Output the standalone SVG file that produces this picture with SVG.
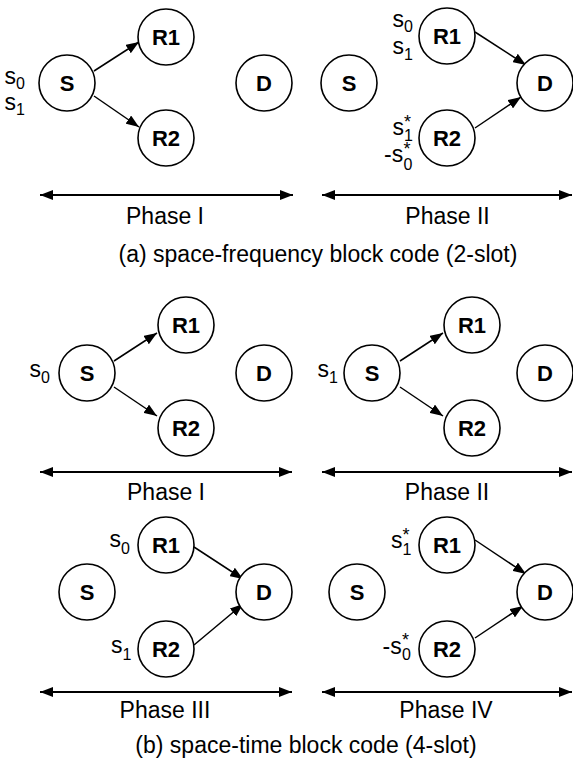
<svg xmlns="http://www.w3.org/2000/svg" width="573" height="767" viewBox="0 0 573 767">
<defs>
<marker id="ah" markerUnits="userSpaceOnUse" markerWidth="13" markerHeight="10" refX="13" refY="5" orient="auto-start-reverse" viewBox="0 0 13 10"><path d="M0,0 L13,5 L0,10 z" fill="#000"/></marker>
</defs>
<style>
.n circle{fill:#fff;stroke:#000;stroke-width:1.6}
.n text.t{font-family:"Liberation Sans",Arial,sans-serif;font-weight:bold;font-size:22px;text-anchor:middle}
.lbl{font-family:"Liberation Sans",Arial,sans-serif;font-size:23px;fill:#000}
.sub{font-size:16px}
.star{font-size:18px}
.c line{stroke:#000;stroke-width:1.5;marker-end:url(#ah)}
.ph line{stroke:#000;stroke-width:2;marker-start:url(#ah);marker-end:url(#ah)}
.ph text,.cap{font-family:"Liberation Sans",Arial,sans-serif;font-size:23px;text-anchor:middle}
</style>
<rect width="573" height="767" fill="#fff"/>

<!-- connectors -->
<g id="connectors" class="c">
<line x1="94" y1="71" x2="139" y2="42"/>
<line x1="94" y1="96" x2="139" y2="127"/>
<line x1="475" y1="32" x2="526" y2="65"/>
<line x1="475" y1="128" x2="521" y2="97"/>
<line x1="114" y1="361" x2="157" y2="333"/>
<line x1="114" y1="387" x2="157" y2="416"/>
<line x1="400" y1="361" x2="443" y2="333"/>
<line x1="400" y1="387" x2="443" y2="416"/>
<line x1="194" y1="547" x2="243" y2="579"/>
<line x1="194" y1="645" x2="243" y2="604"/>
<line x1="475" y1="540" x2="526" y2="574"/>
<line x1="475" y1="638" x2="523" y2="606"/>
</g>

<!-- (a) Phase I -->
<g id="a1-S" class="n"><circle cx="67" cy="83" r="28"/><text class="t" x="67" y="91">S</text>
<text class="lbl" x="4.5" y="83.5">s<tspan class="sub" dy="5">0</tspan></text>
<text class="lbl" x="4.5" y="110">s<tspan class="sub" dy="5">1</tspan></text></g>
<g id="a1-R1" class="n"><circle cx="166" cy="37" r="28"/><text class="t" x="166" y="45">R1</text></g>
<g id="a1-R2" class="n"><circle cx="166" cy="138" r="28"/><text class="t" x="166" y="146">R2</text></g>
<g id="a1-D" class="n"><circle cx="264" cy="83" r="28"/><text class="t" x="264" y="91">D</text></g>

<!-- (a) Phase II -->
<g id="a2-S" class="n"><circle cx="349" cy="83" r="28"/><text class="t" x="349" y="91">S</text></g>
<g id="a2-R1" class="n"><circle cx="447" cy="36" r="28"/><text class="t" x="447" y="44">R1</text>
<text class="lbl" x="392.5" y="27">s<tspan class="sub" dy="5">0</tspan></text>
<text class="lbl" x="392.5" y="53.5">s<tspan class="sub" dy="6">1</tspan></text></g>
<g id="a2-R2" class="n"><circle cx="447" cy="138" r="28"/><text class="t" x="447" y="146">R2</text>
<text class="lbl" x="392.5" y="135">s<tspan class="star" x="404" y="128">*</tspan><tspan class="sub" x="404" y="140.5">1</tspan></text>
<text class="lbl" x="384" y="161.5">-s<tspan class="star" x="403.5" y="155">*</tspan><tspan class="sub" x="403.5" y="169.5">0</tspan></text></g>
<g id="a2-D" class="n"><circle cx="545" cy="83" r="28"/><text class="t" x="545" y="91">D</text></g>

<g id="phases-a" class="ph">
<line x1="40" y1="195" x2="293" y2="195"/>
<line x1="322" y1="195" x2="572" y2="195"/>
<text x="165" y="224">Phase I</text>
<text x="447.5" y="224">Phase II</text>
</g>
<text id="caption-a" class="cap" x="318" y="262">(a) space-frequency block code (2-slot)</text>

<!-- (b) Phase I -->
<g id="b1-S" class="n"><circle cx="87" cy="373" r="28"/><text class="t" x="87" y="381">S</text>
<text class="lbl" x="29.5" y="377">s<tspan class="sub" dy="6">0</tspan></text></g>
<g id="b1-R1" class="n"><circle cx="186" cy="325" r="28"/><text class="t" x="186" y="333">R1</text></g>
<g id="b1-R2" class="n"><circle cx="186" cy="428" r="28"/><text class="t" x="186" y="436">R2</text></g>
<g id="b1-D" class="n"><circle cx="264" cy="373" r="28"/><text class="t" x="264" y="381">D</text></g>

<!-- (b) Phase II -->
<g id="b2-S" class="n"><circle cx="372" cy="373" r="28"/><text class="t" x="372" y="381">S</text>
<text class="lbl" x="317.5" y="377">s<tspan class="sub" dy="6">1</tspan></text></g>
<g id="b2-R1" class="n"><circle cx="472" cy="325" r="28"/><text class="t" x="472" y="333">R1</text></g>
<g id="b2-R2" class="n"><circle cx="472" cy="428" r="28"/><text class="t" x="472" y="436">R2</text></g>
<g id="b2-D" class="n"><circle cx="545" cy="373" r="28"/><text class="t" x="545" y="381">D</text></g>

<g id="phases-b1" class="ph">
<line x1="40" y1="472" x2="292" y2="472"/>
<line x1="322" y1="472" x2="572" y2="472"/>
<text x="166" y="500">Phase I</text>
<text x="447" y="500">Phase II</text>
</g>

<!-- (b) Phase III -->
<g id="b3-S" class="n"><circle cx="87" cy="592" r="28"/><text class="t" x="87" y="600">S</text></g>
<g id="b3-R1" class="n"><circle cx="166" cy="545" r="28"/><text class="t" x="166" y="553">R1</text>
<text class="lbl" x="109.5" y="547">s<tspan class="sub" dy="7">0</tspan></text></g>
<g id="b3-R2" class="n"><circle cx="166" cy="649" r="28"/><text class="t" x="166" y="657">R2</text>
<text class="lbl" x="111" y="653">s<tspan class="sub" dy="6.5">1</tspan></text></g>
<g id="b3-D" class="n"><circle cx="264" cy="592" r="28"/><text class="t" x="264" y="600">D</text></g>

<!-- (b) Phase IV -->
<g id="b4-S" class="n"><circle cx="357" cy="592" r="28"/><text class="t" x="357" y="600">S</text></g>
<g id="b4-R1" class="n"><circle cx="447" cy="545" r="28"/><text class="t" x="447" y="553">R1</text>
<text class="lbl" x="391" y="548">s<tspan class="star" x="402.5" y="541">*</tspan><tspan class="sub" x="402.5" y="555">1</tspan></text></g>
<g id="b4-R2" class="n"><circle cx="447" cy="649" r="28"/><text class="t" x="447" y="657">R2</text>
<text class="lbl" x="382.5" y="653.5">-s<tspan class="star" x="402" y="646">*</tspan><tspan class="sub" x="402" y="660">0</tspan></text></g>
<g id="b4-D" class="n"><circle cx="545" cy="592" r="28"/><text class="t" x="545" y="600">D</text></g>

<g id="phases-b2" class="ph">
<line x1="40" y1="692" x2="292" y2="692"/>
<line x1="322" y1="692" x2="572" y2="692"/>
<text x="165" y="718">Phase III</text>
<text x="446" y="718">Phase IV</text>
</g>
<text id="caption-b" class="cap" x="306" y="753">(b) space-time block code (4-slot)</text>
</svg>
